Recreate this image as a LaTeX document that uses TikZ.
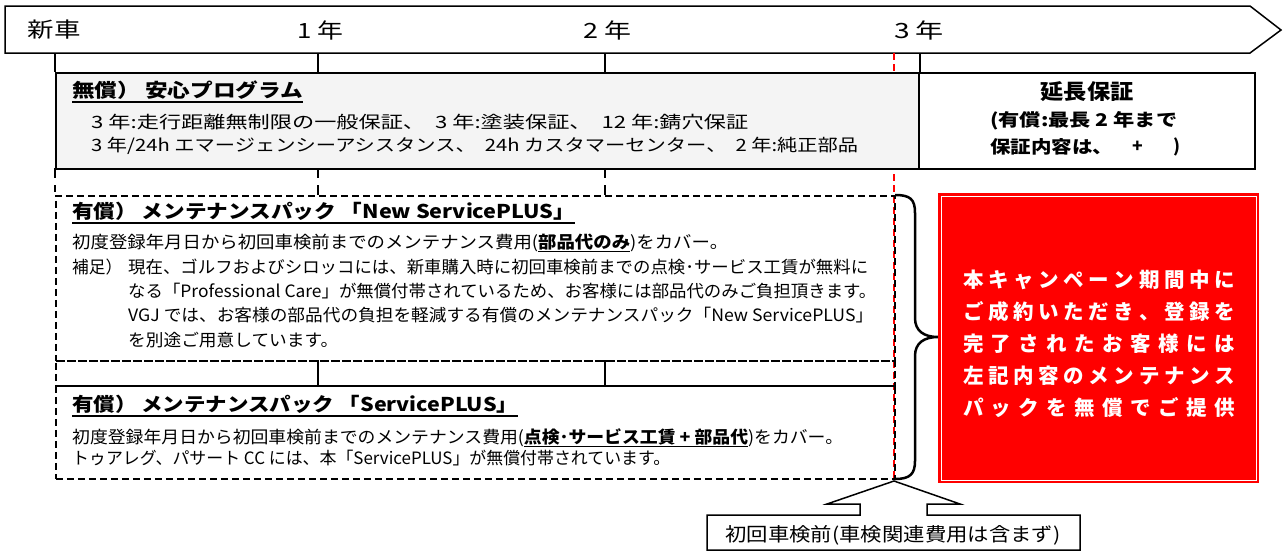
\documentclass[tikz,border=0pt]{standalone}
\usepackage{fontspec}
\setmainfont{Noto Sans CJK JP}
\usepackage{graphicx}
\makeatletter
\newcommand\spreadline[2]{\makebox[#1][s]{\@tfor\sp@ch:=#2\do{\sp@ch\hfill}\unskip}}
\makeatother
\newcommand\fitw[2]{\resizebox{#1}{\height}{#2}}
\newcommand\ulx[3]{\setbox0\hbox{#3}\rlap{\rule[#1]{\wd0}{#2}}\box0}
\definecolor{boxgray}{HTML}{F4F4F4}
\definecolor{vred}{HTML}{FF0000}
\tikzset{
  tl/.style={draw=black, line width=1.5pt, fill=white},
  lab/.style={inner sep=0pt, font=\fontsize{21}{25}\selectfont},
  body/.style={inner sep=0pt, anchor=west, font=\fontsize{17}{20}\selectfont},
  ttl/.style={inner sep=0pt, anchor=west, font=\fontsize{19}{23}\selectfont\bfseries},
  extxt/.style={inner sep=0pt, font=\fontsize{17.5}{20}\selectfont\bfseries},
  redtxt/.style={inner sep=0pt, text=white, font=\fontsize{20.5}{24}\selectfont\bfseries},
  dbox/.style={draw=black, dash pattern=on 7pt off 4pt, line width=1.6pt, inner sep=0pt, anchor=north west},
  tick/.style={line width=1.6pt},
  solidbox/.style={draw=black, inner sep=0pt, anchor=north west},
}
\begin{document}
\begin{tikzpicture}[x=1pt, y=-1pt]
\useasboundingbox (0,0) rectangle (1284,554);
% timeline arrow
\draw[tl] (5,6) -- (1250,6) -- (1281,30) -- (1250,53) -- (5,53) -- cycle;
\node[lab] (t0) at (54,30) {\fitw{53pt}{新車}};
\node[lab] (t1) at (320,30) {\fitw{46pt}{1 年}};
\node[lab] (t2) at (607,30) {\fitw{48pt}{2 年}};
\node[lab] (t3) at (919,30) {\fitw{50pt}{3 年}};
% ticks
\foreach \x in {55,318,605,920} \draw[tick] (\x,53) -- (\x,72);
\foreach \x in {55,318,605} \draw[tick] (\x,168) -- (\x,178);
\foreach \x in {318,605} \draw[tick] (\x,185) -- (\x,195);
\foreach \x in {318,605} \draw[tick] (\x,360) -- (\x,385);
% red dashed line (3 years)
\draw[vred, line width=1.5pt, dash pattern=on 7pt off 4pt] (894,53) -- (894,480);
% box 1
\node[solidbox, line width=2.4pt, fill=boxgray, minimum width=863pt, minimum height=96pt] (b1) at (55,72) {};
\node[solidbox, line width=1.5pt, fill=white, minimum width=336pt, minimum height=96pt] (ext) at (918,72) {};
% dashed boxes
\node[dbox, minimum width=839pt, minimum height=165pt] (b2) at (55,195) {};
\node[dbox, minimum width=839pt, minimum height=25pt] (b3) at (55,360) {};
\node[dbox, minimum width=839pt, minimum height=93pt] (b4) at (55,385) {};
\draw[black, dash pattern=on 7pt off 4pt, line width=1.6pt] (55,185) -- (55,195);
% box 1 text
\node[ttl] (b1t) at (72,92) {\fitw{231pt}{\ulx{-5pt}{1.6pt}{無償） 安心プログラム}}};
\node[body] (b1a) at (91,122) {\fitw{657pt}{3 年:走行距離無制限の一般保証、\ \ 3 年:塗装保証、\ \ 12 年:錆穴保証}};
\node[body] (b1b) at (91,146) {\fitw{767pt}{3 年/24h エマージェンシーアシスタンス、\ \ 24h カスタマーセンター、\ \ 2 年:純正部品}};
% extended warranty text
\node[extxt, font=\fontsize{21}{24}\selectfont\bfseries] (e1) at (1087,92) {\fitw{93pt}{延長保証}};
\node[extxt, anchor=west] (e2) at (990,121) {\fitw{187pt}{(有償:最長 2 年まで}};
\node[extxt, anchor=west] (e3) at (990,147) {\fitw{123pt}{保証内容は、}};
\node[extxt] (e4) at (1138,147) {+};
\node[extxt] (e5) at (1177,147) {)};
% box 2 text
\node[ttl] (b2t) at (72,213) {\fitw{503pt}{\ulx{-5pt}{1.6pt}{有償） メンテナンスパック 「New ServicePLUS」}}};
\node[body] (b2a) at (72,243) {\fitw{656pt}{初度登録年月日から初回車検前までのメンテナンス費用(\ulx{-3.5pt}{1.3pt}{\bfseries 部品代のみ})をカバー。}};
\node[body] (b2b0) at (72,267) {\fitw{50pt}{補足）}};
\node[body] (b2b) at (128,267) {\fitw{740pt}{現在、ゴルフおよびシロッコには、新車購入時に初回車検前までの点検･サービス工賃が無料に}};
\node[body] (b2c) at (128,291) {\fitw{748pt}{なる「Professional Care」が無償付帯されているため、お客様には部品代のみご負担頂きます。}};
\node[body] (b2d) at (128,315) {\fitw{745pt}{VGJ では、お客様の部品代の負担を軽減する有償のメンテナンスパック「New ServicePLUS」}};
\node[body] (b2e) at (128,340) {\fitw{210pt}{を別途ご用意しています。}};
% box 4 text
\node[ttl] (b4t) at (72,406) {\fitw{446pt}{\ulx{-5pt}{1.6pt}{有償） メンテナンスパック 「ServicePLUS」}}};
\node[body] (b4a) at (72,438) {\fitw{771pt}{初度登録年月日から初回車検前までのメンテナンス費用(\ulx{-3.5pt}{1.3pt}{\bfseries 点検･サービス工賃 + 部品代})をカバー。}};
\node[body] (b4b) at (72,458) {\fitw{598pt}{トゥアレグ、パサート CC には、本「ServicePLUS」が無償付帯されています。}};
% brace
\draw[line width=2.5pt, line join=round] (895,195) .. controls (910,195) and (915,199) .. (915,213) -- (915,318)
  .. controls (915,331) and (924,337) .. (938,337)
  .. controls (924,337) and (915,343) .. (915,356) -- (915,461)
  .. controls (915,474) and (910,479) .. (895,479);
% red box
\node[solidbox, draw=vred, fill=vred, line width=1pt, minimum width=320pt, minimum height=289pt] (rb) at (938,193) {};
\draw[white, line width=1pt] ([shift={(3,3)}]rb.north west) rectangle ([shift={(-3,-3)}]rb.south east);
\node[redtxt] (r1) at (1099,280) {\spreadline{272pt}{本キャンペーン期間中に}};
\node[redtxt] (r2) at (1099,312) {\spreadline{272pt}{ご成約いただき、登録を}};
\node[redtxt] (r3) at (1099,344) {\spreadline{272pt}{完了されたお客様には}};
\node[redtxt] (r4) at (1099,376) {\spreadline{272pt}{左記内容のメンテナンス}};
\node[redtxt] (r5) at (1099,408) {\spreadline{272pt}{パックを無償でご提供}};
% callout
\draw[line width=1.5pt, fill=white, line join=miter] (707,550) -- (707,515) -- (860,515) -- (860,504) -- (827,504) -- (894,481) -- (960,504) -- (927,504) -- (927,515) -- (1080,515) -- (1080,550) -- cycle;
\node[inner sep=0pt, font=\fontsize{19}{22}\selectfont] (cap) at (893,535) {\fitw{335pt}{初回車検前(車検関連費用は含まず)}};
\end{tikzpicture}
\end{document}
